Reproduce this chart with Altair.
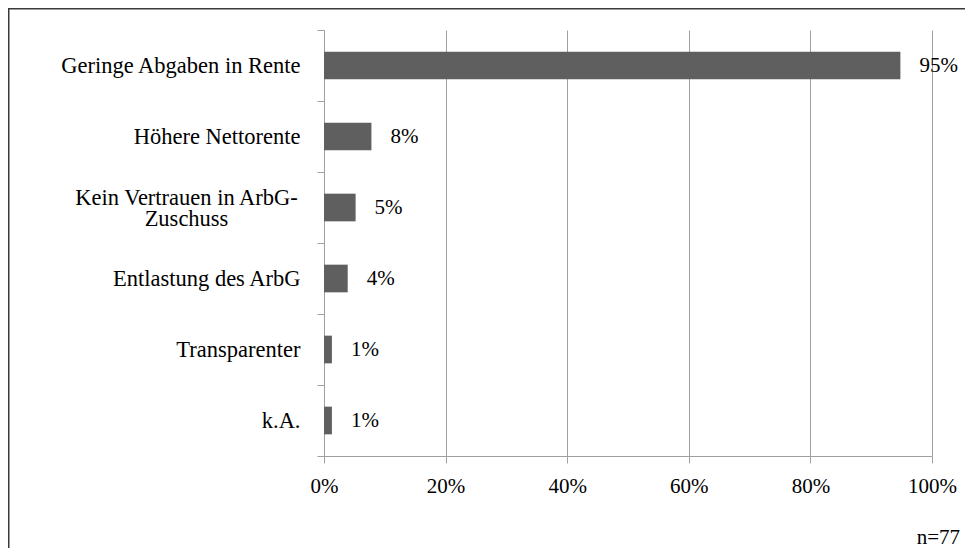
import altair as alt
import pandas as pd

categories = [
    "Geringe Abgaben in Rente",
    "Höhere Nettorente",
    "Kein Vertrauen in ArbG-Zuschuss",
    "Entlastung des ArbG",
    "Transparenter",
    "k.A.",
]
shares = [0.948, 0.078, 0.052, 0.039, 0.013, 0.013]
x_ticks = [0, 0.2, 0.4, 0.6, 0.8, 1.0]
note = "n=77"

df = pd.DataFrame({"cat": categories, "share": shares})

FONT = "Liberation Serif"
GRAY = "#a0a0a0"
W, H = 608, 426
WRAP = "Kein Vertrauen in ArbG-Zuschuss"
TEST = f"datum.value == '{WRAP}'"

frame = alt.Chart(pd.DataFrame({"note": [note]})).mark_rect(
    fill="transparent", stroke="#3a3a3a", strokeWidth=1.5
).encode(
    x=alt.value(-315.25), x2=alt.value(W + 60),
    y=alt.value(-21.25), y2=alt.value(H + 120),
)

y_enc = alt.Y(
    "cat:N", sort=categories, title=None,
    scale=alt.Scale(paddingInner=0, paddingOuter=0),
    axis=alt.Axis(
        tickBand="extent", tickSize=7, tickColor=GRAY, domainColor=GRAY,
        labelFont=FONT, labelFontSize=22.5, labelColor="#000000",
        labelLineHeight=21, labelLimit=400,
        labelAlign={"condition": {"test": TEST, "value": "center"}, "value": "right"},
        labelPadding={"condition": {"test": TEST, "value": 131}, "value": 17},
        labelOffset={"condition": {"test": TEST, "value": -10.5}, "value": 0},
        labelExpr=f"datum.label == '{WRAP}' ? ['Kein Vertrauen in ArbG-', 'Zuschuss'] : datum.label",
    ),
)
x_enc = alt.X(
    "share:Q", title=None,
    scale=alt.Scale(domain=[0, 1], nice=False),
    axis=alt.Axis(
        values=x_ticks, format=".0%", grid=True, gridColor=GRAY, tickColor=GRAY,
        domainColor=GRAY, tickSize=7, labelFont=FONT, labelFontSize=21,
        labelColor="#000000", labelPadding=12, labelFlush=False,
    ),
)

bars = alt.Chart(df).mark_bar(color="#5f5f5f", height={"band": 0.39}).encode(
    x=x_enc, y=y_enc
)
labels = alt.Chart(df).mark_text(
    align="left", baseline="middle", dx=19, font=FONT, fontSize=21, color="#000000"
).encode(
    x="share:Q", y=alt.Y("cat:N", sort=categories),
    text=alt.Text("share:Q", format=".0%"),
)
note_text = alt.Chart(pd.DataFrame({"note": [note]})).mark_text(
    align="right", baseline="alphabetic", font=FONT, fontSize=21, color="#000000"
).encode(
    x=alt.value(636), y=alt.value(514), text="note:N"
)

chart = alt.layer(frame, bars, labels, note_text).properties(
    width=W, height=H,
    autosize=alt.AutoSizeParams(type="none"),
    padding={"left": 316, "top": 22, "right": 33, "bottom": 92},
).configure_view(stroke="transparent")

chart.save("out.html", embed_options={"renderer": "svg", "actions": False})
